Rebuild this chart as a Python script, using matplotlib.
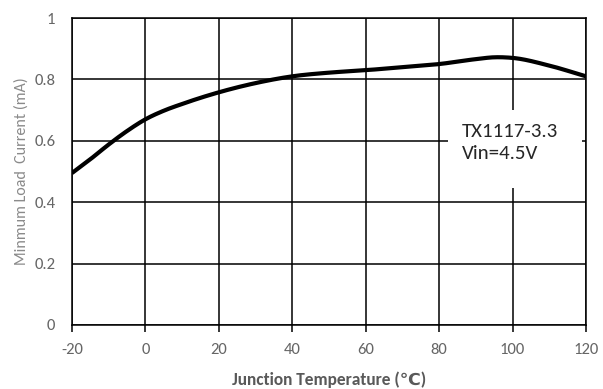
import matplotlib
matplotlib.use("Agg")
import matplotlib.pyplot as plt
from matplotlib.patches import Rectangle
import numpy as np

temps = [-20, -15, -10, -5, 0, 5, 10, 20, 30, 40, 50, 60, 70, 80, 90, 95, 100, 110, 120]
current = [0.495, 0.540, 0.588, 0.632, 0.670, 0.698, 0.720, 0.758, 0.788, 0.810, 0.822, 0.830, 0.840, 0.850, 0.866, 0.872, 0.870, 0.845, 0.810]
xticks = [-20, 0, 20, 40, 60, 80, 100, 120]
yticks = [0, 0.2, 0.4, 0.6, 0.8, 1]
ytick_labels = ["0", "0.2", "0.4", "0.6", "0.8", "1"]
label_text = "TX1117-3.3\nVin=4.5V"

FONT = ["Carlito", "DejaVu Sans"]
plt.rcParams["font.family"] = FONT
plt.rcParams["axes.unicode_minus"] = False

fig = plt.figure(figsize=(6.03, 3.89), dpi=100)
ax = fig.add_axes([72/603, (389-325)/389, (586-72)/603, (325-18)/389])

t = np.array(temps, float); c = np.array(current, float)
d = np.gradient(c, t)
xs = np.linspace(t[0], t[-1], 500)
ys = np.empty_like(xs)
for i, x in enumerate(xs):
    k = min(np.searchsorted(t, x, side='right') - 1, len(t) - 2)
    h = t[k+1] - t[k]; s = (x - t[k]) / h
    h00 = 2*s**3 - 3*s**2 + 1; h10 = s**3 - 2*s**2 + s
    h01 = -2*s**3 + 3*s**2; h11 = s**3 - s**2
    ys[i] = h00*c[k] + h10*h*d[k] + h01*c[k+1] + h11*h*d[k+1]

ax.plot(xs, ys, color="black", lw=3.0, solid_capstyle="butt", zorder=3)

ax.set_xlim(-20, 120)
ax.set_ylim(0, 1)
ax.set_xticks(xticks)
ax.set_yticks(yticks)
ax.set_yticklabels(ytick_labels)
ax.grid(True, color="black", lw=1.1)
ax.set_axisbelow(True)
for s in ax.spines.values():
    s.set_color("black"); s.set_linewidth(1.1)
ax.tick_params(axis="x", direction="out", length=5, width=1.1, color="black",
               labelsize=12, labelcolor="#666666", pad=8)
ax.tick_params(axis="y", length=0, labelsize=12, labelcolor="#666666", pad=12)

ax.set_ylabel("Minmum Load  Current (mA)", fontsize=11.5, color="#8a8a8a", labelpad=4)
ax.set_xlabel("Junction Temperature (℃)", fontsize=12.5, color="#595959",
              fontweight="bold", labelpad=10)

ax.add_patch(Rectangle((82.4, 0.446), 36.4, 0.254, fc="white", ec="none", zorder=2.5))
ax.text(86.2, 0.593, label_text, fontsize=15, color="#262626",
        va="center", ha="left", linespacing=1.35, zorder=4)

fig.savefig("out.png", dpi=100)
